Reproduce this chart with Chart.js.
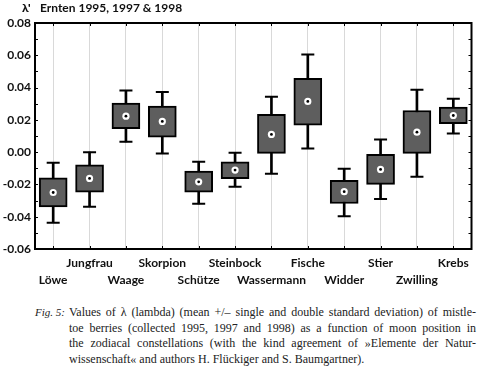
<!DOCTYPE html>
<html>
<head>
<meta charset="utf-8">
<script src="https://cdn.jsdelivr.net/npm/chart.js@4"></script>
<style>
  body { margin: 0; background: #fff; }
  #wrap { position: relative; width: 480px; height: 366px; overflow: hidden; }
  #titel { position: absolute; left: 22px; top: 0px; font: bold 12px Lato, sans-serif; color: #111; white-space: pre; }
  #titel b { display: inline-block; width: 18px; }
  #chartBox { position: absolute; left: 0; top: 0; width: 480px; height: 292px; }
  #fig { position: absolute; left: 35px; top: 305px; font: italic 11px "Liberation Serif", serif; line-height: 15.7px; color: #222; }
  #caption { position: absolute; left: 69px; top: 305px; width: 407px; font: 12px "Liberation Serif", serif; line-height: 15.7px; color: #222; }
  #caption span { display: block; white-space: nowrap; }
  #caption span.j { text-align: justify; text-align-last: justify; white-space: normal; }
</style>
</head>
<body>
<div id="wrap">
  <div id="chartBox"><canvas id="boxChart"></canvas></div>
  <div id="titel"><b>λ'</b>Ernten 1995, 1997 &amp; 1998</div>
  <div id="fig">Fig. 5:</div>
  <div id="caption">
    <span class="j">Values of λ (lambda) (mean +/– single and double standard deviation) of mistle-</span>
    <span class="j">toe berries (collected 1995, 1997 and 1998) as a function of moon position in</span>
    <span class="j">the zodiacal constellations (with the kind agreement of »Elemente der Natur-</span>
    <span>wissenschaft« and authors H. Flückiger and S. Baumgartner).</span>
  </div>
</div>
<script>
var sternzeichen = ['Löwe', 'Jungfrau', 'Waage', 'Skorpion', 'Schütze', 'Steinbock',
    'Wassermann', 'Fische', 'Widder', 'Stier', 'Zwilling', 'Krebs'];

// Mittelwert, +/- 1 SD (Box), +/- 2 SD (Whisker)
var mittel      = [-0.025, -0.0163, 0.0223, 0.019, -0.0184, -0.0111, 0.011, 0.0314, -0.0245, -0.0107, 0.0124, 0.0227];
var boxUnten    = [-0.034, -0.0248, 0.0145, 0.0093, -0.0248, -0.0165, -0.0008, 0.0167, -0.0318, -0.020, -0.0008, 0.0176];
var boxOben     = [-0.0159, -0.0078, 0.0304, 0.0285, -0.0118, -0.006, 0.0234, 0.0457, -0.0175, -0.0014, 0.0258, 0.0279];
var whiskUnten  = [-0.0437, -0.0338, 0.0064, -0.0008, -0.032, -0.0214, -0.0134, 0.0023, -0.0397, -0.029, -0.0152, 0.0116];
var whiskOben   = [-0.0066, 0.000, 0.0382, 0.0372, -0.006, -0.0004, 0.0343, 0.0605, -0.0103, 0.0079, 0.0387, 0.0331];

var yTicks = [-0.06, -0.04, -0.02, 0.00, 0.02, 0.04, 0.06, 0.08];

// Rahmen + nach innen zeigende Ticks
var rahmenPlugin = {
    id: 'rahmen',
    afterDatasetsDraw: function (chart) {
        var ctx = chart.ctx;
        var a = chart.chartArea;
        var x = chart.scales.x;
        var y = chart.scales.y;
        ctx.save();
        ctx.strokeStyle = '#000';
        ctx.lineWidth = 1;
        ctx.beginPath();
        for (var v = -0.06; v <= 0.0801; v += 0.01) {
            var py = Math.round(y.getPixelForValue(v)) + 0.5;
            ctx.moveTo(a.left, py); ctx.lineTo(a.left + 3, py);
            ctx.moveTo(a.right, py); ctx.lineTo(a.right - 3, py);
        }
        for (var i = 0; i < sternzeichen.length; i++) {
            var px = Math.round(x.getPixelForValue(i)) + 0.5;
            ctx.moveTo(px, a.top); ctx.lineTo(px, a.top + 3);
            ctx.moveTo(px, a.bottom); ctx.lineTo(px, a.bottom - 3);
        }
        ctx.stroke();
        ctx.lineWidth = 2;
        ctx.strokeRect(a.left, a.top, a.right - a.left, a.bottom - a.top);
        ctx.restore();
    }
};

var ctx = document.getElementById('boxChart').getContext('2d');

var boxChart = new Chart(ctx, {
    type: 'bar',
    data: {
        labels: sternzeichen,
        datasets: [
            {
                label: 'Box',
                data: boxUnten.map(function (v, i) { return [v, boxOben[i]]; }),
                backgroundColor: '#5e5e5e',
                borderColor: '#000',
                borderWidth: 2,
                borderSkipped: false,
                barThickness: 28,
                grouped: false,
                order: 3
            },
            {
                label: 'Whisker',
                data: whiskUnten.map(function (v, i) { return [v, whiskOben[i]]; }),
                backgroundColor: '#000',
                borderWidth: 0,
                barThickness: 2,
                grouped: false,
                order: 5
            },
            {
                label: 'KappeOben',
                type: 'line',
                data: whiskOben,
                showLine: false,
                pointStyle: 'line',
                pointRadius: 6.5,
                pointBorderWidth: 2,
                pointBorderColor: '#000',
                order: 4
            },
            {
                label: 'KappeUnten',
                type: 'line',
                data: whiskUnten,
                showLine: false,
                pointStyle: 'line',
                pointRadius: 6.5,
                pointBorderWidth: 2,
                pointBorderColor: '#000',
                order: 4
            },
            {
                label: 'Mittel',
                type: 'line',
                data: mittel,
                showLine: false,
                pointRadius: 3.6,
                pointBorderWidth: 0,
                pointBackgroundColor: '#fff',
                order: 2
            },
            {
                label: 'Punkt',
                type: 'line',
                data: mittel,
                showLine: false,
                pointRadius: 1.4,
                pointBorderWidth: 0,
                pointBackgroundColor: '#000',
                order: 1
            }
        ]
    },
    options: {
        responsive: true,
        maintainAspectRatio: false,
        animation: false,
        layout: { padding: { top: 23, right: 3, left: 0, bottom: 0 } },
        plugins: {
            legend: { display: false },
            tooltip: { enabled: false },
            title: { display: false }
        },
        scales: {
            x: {
                offset: true,
                grid: { offset: false, color: '#d9d9d9', lineWidth: 1, drawTicks: false },
                border: { display: false },
                ticks: {
                    autoSkip: false,
                    maxRotation: 0,
                    padding: 6,
                    color: '#111',
                    font: { family: 'Lato', size: 12, weight: 'bold', lineHeight: 1.4 },
                    callback: function (value, index) {
                        var name = sternzeichen[index];
                        return index % 2 === 0 ? ['', name] : [name, ''];
                    }
                },
                afterFit: function (scale) { scale.height = 43; }
            },
            y: {
                min: -0.06,
                max: 0.08,
                grid: { display: false, drawTicks: false },
                border: { display: false },
                afterBuildTicks: function (scale) {
                    scale.ticks = yTicks.map(function (v) { return { value: v }; });
                },
                ticks: {
                    padding: 4,
                    color: '#111',
                    font: { family: 'Lato', size: 12, weight: 'bold' },
                    callback: function (value) { return value.toFixed(2); }
                },
                afterFit: function (scale) { scale.width = 35; }
            }
        }
    },
    plugins: [rahmenPlugin]
});
</script>
</body>
</html>
